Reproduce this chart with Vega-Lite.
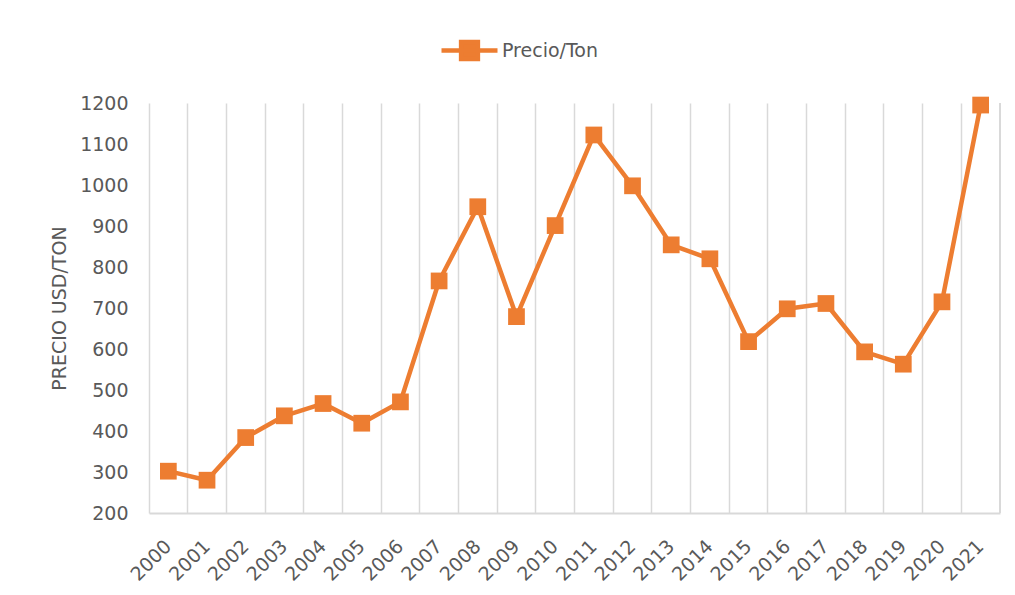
{
  "$schema": "https://vega.github.io/schema/vega-lite/v6.json",
  "autosize": {"type": "none"},
  "width": 851,
  "height": 410,
  "padding": {"left": 149, "top": 103, "right": 15, "bottom": 82},
  "background": "white",
  "config": {
    "view": {"stroke": null},
    "font": "DejaVu Sans"
  },
  "data": {
    "values": [
      {"year": "2000", "price": 302},
      {"year": "2001", "price": 280},
      {"year": "2002", "price": 384},
      {"year": "2003", "price": 437},
      {"year": "2004", "price": 467},
      {"year": "2005", "price": 419},
      {"year": "2006", "price": 471},
      {"year": "2007", "price": 766},
      {"year": "2008", "price": 947},
      {"year": "2009", "price": 679},
      {"year": "2010", "price": 901},
      {"year": "2011", "price": 1122},
      {"year": "2012", "price": 998},
      {"year": "2013", "price": 854},
      {"year": "2014", "price": 820},
      {"year": "2015", "price": 618},
      {"year": "2016", "price": 698},
      {"year": "2017", "price": 711},
      {"year": "2018", "price": 593},
      {"year": "2019", "price": 563},
      {"year": "2020", "price": 715},
      {"year": "2021", "price": 1195}
    ]
  },
  "layer": [
    {
      "mark": {"type": "rule", "color": "#D9D9D9", "strokeWidth": 1.5},
      "encoding": {
        "x": {"datum": "2021", "type": "ordinal", "bandPosition": 1}
      }
    },
    {
      "mark": {
        "type": "line",
        "strokeWidth": 4.5,
        "strokeJoin": "round",
        "strokeCap": "round",
        "point": {"shape": "square", "size": 280, "filled": true, "opacity": 1}
      },
      "encoding": {
        "x": {
          "field": "year",
          "type": "ordinal",
          "scale": {"type": "band", "paddingInner": 0, "paddingOuter": 0},
          "axis": {
            "title": null,
            "bandPosition": 0,
            "grid": true,
            "gridColor": "#D9D9D9",
            "gridWidth": 1.5,
            "ticks": false,
            "domain": true,
            "domainColor": "#D9D9D9",
            "domainWidth": 2,
            "labelAngle": -45,
            "labelAlign": "right",
            "labelBaseline": "middle",
            "labelPadding": 30,
            "labelFont": "DejaVu Sans",
            "labelFontSize": 19,
            "labelColor": "#595959"
          }
        },
        "y": {
          "field": "price",
          "type": "quantitative",
          "scale": {"domain": [200, 1200], "nice": false, "zero": false},
          "axis": {
            "title": "PRECIO USD/TON",
            "titleFont": "DejaVu Sans",
            "titleFontSize": 19,
            "titleFontWeight": "normal",
            "titleColor": "#595959",
            "titlePadding": 10,
            "format": "d",
            "values": [200, 300, 400, 500, 600, 700, 800, 900, 1000, 1100, 1200],
            "grid": false,
            "ticks": false,
            "domain": false,
            "labelPadding": 21,
            "labelFont": "DejaVu Sans",
            "labelFontSize": 19,
            "labelColor": "#595959"
          }
        },
        "color": {
          "datum": "Precio/Ton",
          "type": "nominal",
          "scale": {"range": ["#ED7D31"]},
          "legend": {
            "title": null,
            "orient": "none",
            "legendX": 290,
            "legendY": -83,
            "symbolType": "M-1,0H1M-0.3,-0.3H0.3V0.3H-0.3Z",
            "symbolSize": 3136,
            "symbolStrokeWidth": 4.5,
            "symbolFillColor": "#ED7D31",
            "symbolStrokeColor": "#ED7D31",
            "labelFont": "DejaVu Sans",
            "labelFontSize": 19,
            "labelColor": "#595959",
            "labelOffset": 2
          }
        }
      }
    }
  ]
}
